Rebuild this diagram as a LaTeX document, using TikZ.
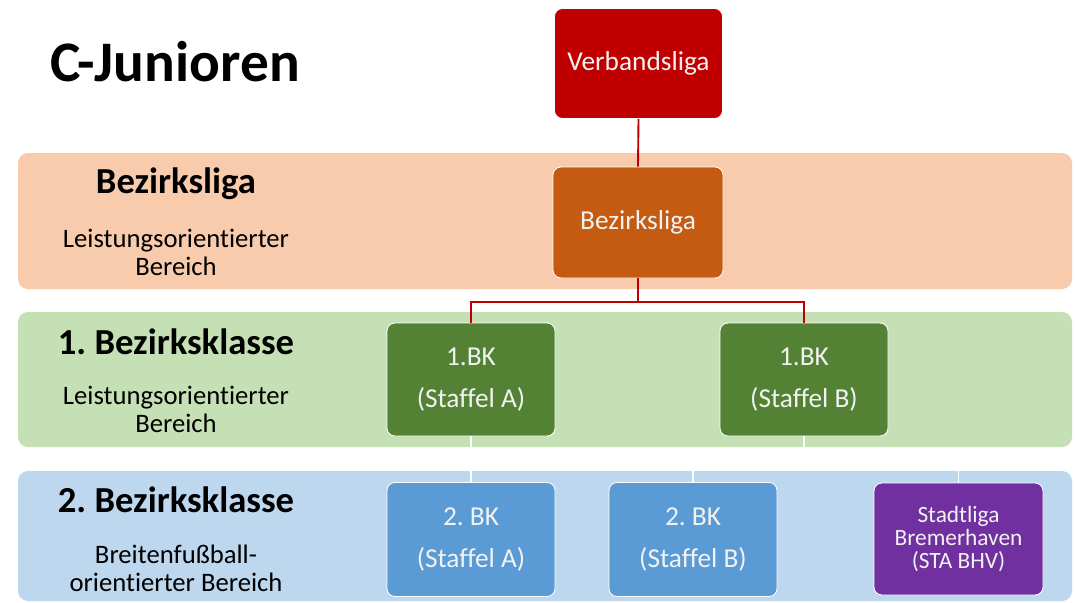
\documentclass[tikz,border=0pt]{standalone}
\usepackage{fontspec}
\setmainfont{Carlito}[RawFeature={-liga}]
\frenchspacing
\definecolor{vbred}{HTML}{C00000}
\definecolor{bzorange}{HTML}{C55A11}
\definecolor{bandA}{HTML}{F8CBAD}
\definecolor{bandB}{HTML}{C5E0B4}
\definecolor{bandC}{HTML}{BDD7EE}
\definecolor{bkgreen}{HTML}{548235}
\definecolor{bkblue}{HTML}{5B9BD5}
\definecolor{stapurple}{HTML}{7030A0}
\tikzset{
  band/.style={draw=none, rounded corners=7.5},
  boxnode/.style={draw=white, line width=0.6pt, rounded corners=6, text=white!95!black,
    align=center, font=\fontsize{20.5}{32}\selectfont},
  heading/.style={font=\bfseries\fontsize{27.5}{33}\selectfont, anchor=center},
  subtext/.style={font=\fontsize{20}{21}\selectfont, align=center, anchor=center},
  redcon/.style={draw=vbred, line width=1.4pt},
  whitecon/.style={draw=white, line width=1.2pt}
}
\begin{document}
\begin{tikzpicture}[x=0.75pt,y=-0.75pt]
\useasboundingbox (0,0) rectangle (1076,603);
\fill[white] (0,0) rectangle (1076,603);
% bands
\fill[band, bandA] (18,153) rectangle (1072,289);
\fill[band, bandB] (18,312) rectangle (1072,447);
\fill[band, bandC] (18,471) rectangle (1072,601);
% title
\node[font=\bfseries\fontsize{43}{50}\selectfont, anchor=west, inner sep=0pt] (title) at (50,62) {C-Junioren};
% band labels
\node[heading] (h1) at (176,184) {Bezirksliga};
\node[subtext] (s1) at (176,252) {Leistungsorientierter\\Bereich};
\node[heading] (h2) at (176,342) {1. Bezirksklasse};
\node[subtext] (s2) at (176,409) {Leistungsorientierter\\Bereich};
\node[heading] (h3) at (176,500) {2. Bezirksklasse};
\node[subtext] (s3) at (176,568) {Breitenfußball-\\orientierter Bereich};
% boxes
\node[boxnode, fill=vbred, minimum width=126pt, minimum height=82.5pt] (vl) at (638.5,63.5) {Verbandsliga};
\node[boxnode, fill=bzorange, minimum width=127.5pt, minimum height=83.25pt] (bl) at (638,222.5) {Bezirksliga};
\node[boxnode, fill=bkgreen, minimum width=126pt, minimum height=84.75pt] (bka) at (471,379.5) {1.BK\\(Staffel A)};
\node[boxnode, fill=bkgreen, minimum width=126pt, minimum height=84.75pt] (bkb) at (804,379.5) {1.BK\\(Staffel B)};
\node[boxnode, fill=bkblue, minimum width=126pt, minimum height=85.5pt, font=\fontsize{20.5}{31}\selectfont] (bk2a) at (471,539.5) {2. BK\\(Staffel A)};
\node[boxnode, fill=bkblue, minimum width=126pt, minimum height=85.5pt, font=\fontsize{20.5}{31}\selectfont] (bk2b) at (693,539.5) {2. BK\\(Staffel B)};
\node[boxnode, fill=stapurple, minimum width=126.75pt, minimum height=84pt, font=\fontsize{17.5}{17.6}\selectfont] (sta) at (958.5,539) {Stadtliga\\Bremerhaven\\(STA BHV)};
% red connectors
\coordinate (rj) at (638,302);
\draw[redcon] (vl.south) -- (bl.north);
\draw[redcon] (bl.south) -- (rj);
\draw[redcon] (bka.north) |- (rj) -| (bkb.north);
% white connectors
\coordinate (wj) at (471,459);
\draw[whitecon] (bka.south) -- (bk2a.north);
\draw[whitecon] (bkb.south) -- (804,459);
\draw[whitecon] (wj) -| (bk2b.north);
\draw[whitecon] (wj) -| (sta.north);
\end{tikzpicture}
\end{document}
